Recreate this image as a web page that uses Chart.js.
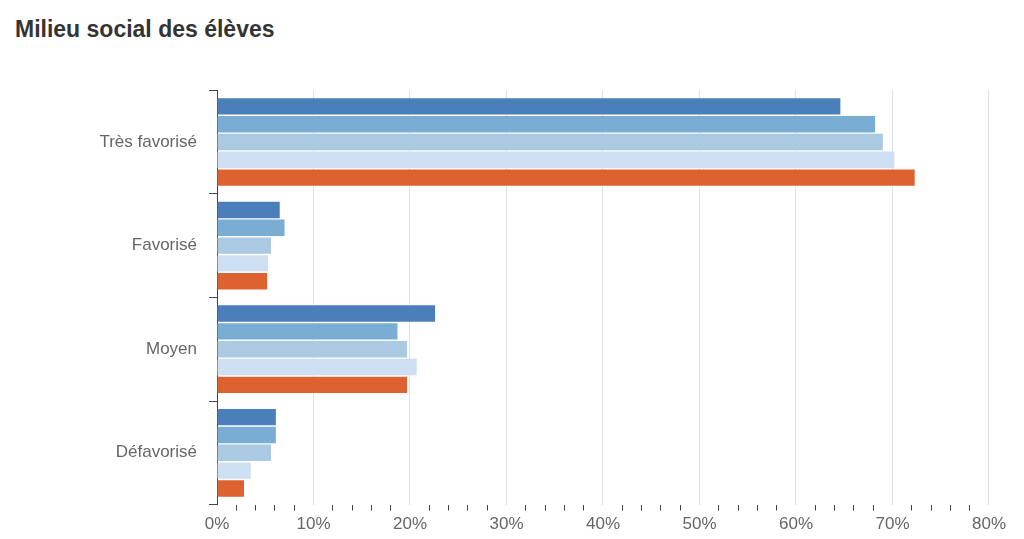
<!DOCTYPE html><html><head><meta charset="utf-8"><script src="https://cdn.jsdelivr.net/npm/chart.js@4"></script>
<style>body{margin:0;background:#fff;font-family:"Helvetica Neue",Arial,"Liberation Sans",sans-serif}#t{position:absolute;left:15px;top:16px;font-size:23px;font-weight:bold;color:#333}#w{position:absolute;left:0;top:68px;width:1010px;height:471px}</style></head><body>
<div id="t">Milieu social des élèves</div><div id="w"><canvas id="c"></canvas></div>
<script>
const categories=["Très favorisé","Favorisé","Moyen","Défavorisé"];
const s1=[64.6,6.5,22.6,6.1];
const s2=[68.2,7.0,18.7,6.1];
const s3=[69.0,5.6,19.7,5.6];
const s4=[70.2,5.3,20.7,3.5];
const s5=[72.3,5.2,19.7,2.8];
const colors=["#4a7fba","#7aadd3","#a9cae0","#cfdff2","#dd6230"];
const ds=[s1,s2,s3,s4,s5].map((d,i)=>({label:"S"+(i+1),data:d,backgroundColor:colors[i],barPercentage:0.92,categoryPercentage:0.86}));
new Chart(document.getElementById('c'),{type:'bar',data:{labels:categories,datasets:ds},
options:{indexAxis:'y',responsive:true,maintainAspectRatio:false,animation:false,
layout:{padding:{left:10,right:10,top:18,bottom:0}},
plugins:{legend:{display:false},tooltip:{enabled:false}},
scales:{
x:{min:0,max:80,ticks:{stepSize:2,autoSkip:false,maxRotation:0,color:'#666',font:{size:17},callback:v=>v%10===0?v+'%':'',padding:4},
 grid:{color:c=>c.tick&&c.tick.value%10===0&&c.tick.value>0?'#dde0ea':'rgba(0,0,0,0)',tickColor:c=>c.tick&&c.tick.value%10!==0?'#444':'rgba(0,0,0,0)',tickLength:6,drawTicks:true},border:{display:false}},
y:{afterFit:s=>{s.width=207},ticks:{color:'#666',font:{size:17},padding:12},grid:{drawOnChartArea:false,tickLength:8,tickColor:'#444',offset:true},border:{color:'#444'}}
}}});
</script></body></html>
